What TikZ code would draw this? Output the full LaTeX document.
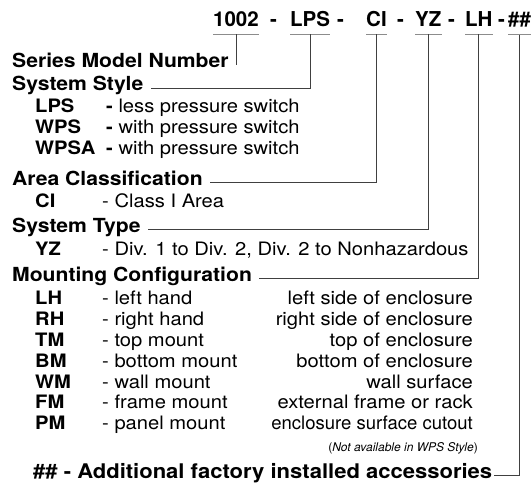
\documentclass[tikz,border=0pt]{standalone}
\usepackage{fontspec}
\setmainfont{TeX Gyre Heros}
\newfontfamily\widefont[FakeStretch=1.09]{TeX Gyre Heros}
\usetikzlibrary{positioning}

\begin{document}
\begin{tikzpicture}[x=1pt, y=-1pt,
every node/.style={inner sep=0pt, anchor=base west},
topcode/.style={font=\fontsize{20.5}{21}\selectfont\bfseries},
header/.style={font=\widefont\fontsize{19.4}{20}\selectfont\bfseries},
code/.style={font=\widefont\fontsize{18.5}{19}\selectfont\bfseries},
desc/.style={font=\widefont\fontsize{18.5}{19}\selectfont},
place/.style={desc, anchor=base east},
uline/.style={draw=black!45, line width=0.9pt},
link/.style={draw=black!75, line width=0.8pt}
]
\path[fill=white, use as bounding box] (0,0) rectangle (532,485);

% model number
\node[topcode] (c1002) at (213,26) {1002};
\node[topcode] (d1) at (270,26) {-};
\node[topcode] (cLPS) at (290,26) {LPS};
\node[topcode] (d2) at (337,26) {-};
\node[topcode] (cCI) at (366,26) {CI};
\node[topcode] (d3) at (397,26) {-};
\node[topcode] (cYZ) at (415,26) {YZ};
\node[topcode] (d4) at (448,26) {-};
\node[topcode] (cLH) at (465,26) {LH};
\node[topcode] (d5) at (498,26) {-};
\node[topcode] (cAcc) at (508,26) {\#\#};

% headers and entries
\node[header] (hdSeries) at (12,67) {Series Model Number};

\node[header] (hdStyle) at (12,90) {System Style};
\node[code] (kLPS) at (35,112) {LPS};
\node[desc] (tLPS) at (106,112) {\textbf{-} less pressure switch};
\node[code] (kWPS) at (35,133) {WPS};
\node[desc] (tWPS) at (106,133) {\textbf{-} with pressure switch};
\node[code] (kWPSA) at (35,154) {WPSA};
\node[desc] (tWPSA) at (106,154) {\textbf{-} with pressure switch};

\node[header] (hdArea) at (12,185) {Area Classification};
\node[code] (kCI) at (35,207) {CI};
\node[desc] (tCI) at (102,207) {- Class I Area};

\node[header] (hdType) at (12,232) {System Type};
\node[code] (kYZ) at (35,255) {YZ};
\node[desc] (tYZ) at (102,255) {- Div. 1 to Div. 2, Div. 2 to Nonhazardous};

\node[header] (hdMount) at (12,281) {Mounting Configuration};
\node[code] (kLH) at (35,304) {LH};
\node[desc] (tLH) at (102,304) {- left hand};
\node[place] (pLH) at (473,304) {left side of enclosure};
\node[code] (kRH) at (35,325) {RH};
\node[desc] (tRH) at (102,325) {- right hand};
\node[place] (pRH) at (473,325) {right side of enclosure};
\node[code] (kTM) at (35,346) {TM};
\node[desc] (tTM) at (102,346) {- top mount};
\node[place] (pTM) at (473,346) {top of enclosure};
\node[code] (kBM) at (35,367) {BM};
\node[desc] (tBM) at (102,367) {- bottom mount};
\node[place] (pBM) at (473,367) {bottom of enclosure};
\node[code] (kWM) at (35,388) {WM};
\node[desc] (tWM) at (102,388) {- wall mount};
\node[place] (pWM) at (473,388) {wall surface};
\node[code] (kFM) at (35,408) {FM};
\node[desc] (tFM) at (102,408) {- frame mount};
\node[place] (pFM) at (473,408) {external frame or rack};
\node[code] (kPM) at (35,429) {PM};
\node[desc] (tPM) at (102,429) {- panel mount};
\node[place, font=\fontsize{18.5}{19}\selectfont] (pPM) at (473,429) {enclosure surface cutout};
\node[anchor=base east, font=\fontsize{12}{12}\selectfont] (note) at (478,451) {(\textit{Not available in WPS Style})};

\node[header, font=\widefont\fontsize{20.2}{21}\selectfont\bfseries] (hdAcc) at (33,478) {\#\# - Additional factory installed accessories};

% underlines
\draw[uline] ([yshift=-8pt]c1002.south west) -- ([yshift=-8pt]c1002.south east);
\draw[uline] ([yshift=-8pt]cLPS.south west) -- ([yshift=-8pt]cLPS.south east);
\draw[uline] ([yshift=-8pt]cCI.south west) -- ([yshift=-8pt]cCI.south east);
\draw[uline] ([yshift=-8pt]cYZ.south west) -- ([yshift=-8pt]cYZ.south east);
\draw[uline] ([yshift=-8pt]cLH.south west) -- ([yshift=-8pt]cLH.south east);
\draw[uline] ([yshift=-8pt]cAcc.south west) -- ([yshift=-8pt]cAcc.south east);

% leaders
\draw[link] ([yshift=-8pt]c1002.south) -- ([yshift=2pt]c1002.south |- hdSeries.south);
\draw[link] ([yshift=-8pt]cLPS.south) |- ([xshift=7pt,yshift=2pt]hdStyle.base east);
\draw[link] ([yshift=-8pt]cCI.south) |- ([xshift=7pt,yshift=3pt]hdArea.base east);
\draw[link] ([yshift=-8pt]cYZ.south) |- ([xshift=7pt,yshift=3pt]hdType.base east);
\draw[link] ([yshift=-8pt]cLH.south) |- ([xshift=7pt,yshift=3pt]hdMount.base east);
\draw[link] ([yshift=-8pt]cAcc.south) |- ([xshift=2pt,yshift=3pt]hdAcc.base east);

\end{tikzpicture}
\end{document}
